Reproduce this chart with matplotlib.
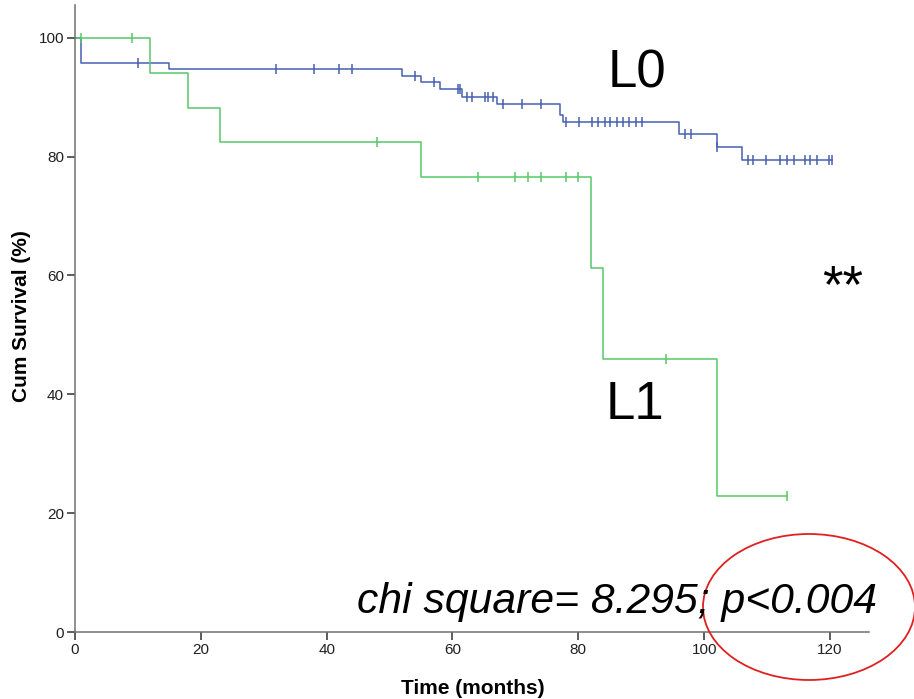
import numpy as np
import matplotlib
matplotlib.use('Agg')
import matplotlib.pyplot as plt
from matplotlib.patches import Ellipse
from matplotlib import font_manager

# Kaplan-Meier steps (months, % surviving)
l0_times = [0, 1, 15, 52, 55, 58, 61.5, 67, 77.1, 77.5, 96, 102, 106, 120.3]
l0_surv = [100, 95.8, 94.7, 93.6, 92.5, 91.3, 90.0, 88.8, 87.0, 85.8, 83.8, 81.6, 79.5, 79.5]
l0_censor = [10, 32, 38, 42, 44, 54, 57, 60.8, 61.2, 62.3, 63.1, 65.1, 65.7, 66.5,
             68.1, 71.1, 74, 78, 80.1, 82.2, 83.2, 84.2, 85.1, 86.1, 87.1, 88.1,
             89.2, 90.1, 96.9, 97.9, 102.1, 106.9, 107.8, 109.9, 112.1, 113.1,
             114.2, 116.1, 116.9, 117.9, 119.8, 120.3]

l1_times = [0, 12, 18, 23, 55, 82, 84, 102, 113.1]
l1_surv = [100, 94.1, 88.2, 82.4, 76.5, 61.2, 45.9, 22.9, 22.9]
l1_censor = [1, 9, 48, 64, 70, 72, 74, 78, 80, 94, 113.1]

x_ticks = [0, 20, 40, 60, 80, 100, 120]
y_ticks = [0, 20, 40, 60, 80, 100]

blue = '#4660b0'
green = '#58c868'

names = {f.name for f in font_manager.fontManager.ttflist}
tick_font = 'Liberation Sans Narrow' if 'Liberation Sans Narrow' in names else 'Liberation Sans'
tick_size = 12 if tick_font == 'Liberation Sans Narrow' else 11


def level_at(times, surv, t):
    i = np.searchsorted(times, t, side='right') - 1
    return surv[i]


fig = plt.figure(figsize=(9.14, 6.99), dpi=100)
ax = fig.add_axes([75/914, 67/699, (869-75)/914, (694-67)/699])

for times, surv, cens, c in [(l0_times, l0_surv, l0_censor, blue),
                             (l1_times, l1_surv, l1_censor, green)]:
    ax.step(times, surv, where='post', color=c, lw=1.1)
    cy = [level_at(times, surv, t) for t in cens]
    ax.plot(cens, cy, ls='none', marker='|', ms=7, mew=1.1, color=c)

ax.set_xlim(0, 126.2)
ax.set_ylim(0, 105.5)
ax.set_xticks(x_ticks)
ax.set_yticks(y_ticks)
for s in ['top', 'right']:
    ax.spines[s].set_visible(False)
for s in ['left', 'bottom']:
    ax.spines[s].set_color('#707070')
    ax.spines[s].set_linewidth(1.1)
ax.tick_params(length=6, width=1.1, color='#303030', pad=2, labelcolor='#202020')
for lab in ax.get_xticklabels() + ax.get_yticklabels():
    lab.set_fontfamily(tick_font)
    lab.set_fontsize(tick_size)

fig.text(22/914, 1 - 316/699, 'Cum Survival (%)', rotation=90, ha='center', va='center',
         fontsize=15, fontweight='bold', family='Liberation Sans')
fig.text(473/914, 1 - 688/699, 'Time (months)', ha='center', va='center',
         fontsize=15, fontweight='bold', family='Liberation Sans')

fig.text(637/914, 1 - 74/699, 'L0', ha='center', va='center', fontsize=38, family='Liberation Sans')
fig.text(635/914, 1 - 405/699, 'L1', ha='center', va='center', fontsize=38, family='Liberation Sans')
fig.text(843/914, 1 - 288/699, '**', ha='center', va='center', fontsize=38, family='Liberation Sans')
fig.text(357/914, 1 - 613/699, 'chi square= 8.295; p<0.004', ha='left', va='baseline',
         fontsize=30.7, style='italic', family='Liberation Sans')

fig.add_artist(Ellipse((809/914, 1 - 607/699), 212/914, 146/699, transform=fig.transFigure,
                       fill=False, edgecolor='#e02020', lw=1.3, clip_on=False))

fig.savefig('out.png', dpi=100)
